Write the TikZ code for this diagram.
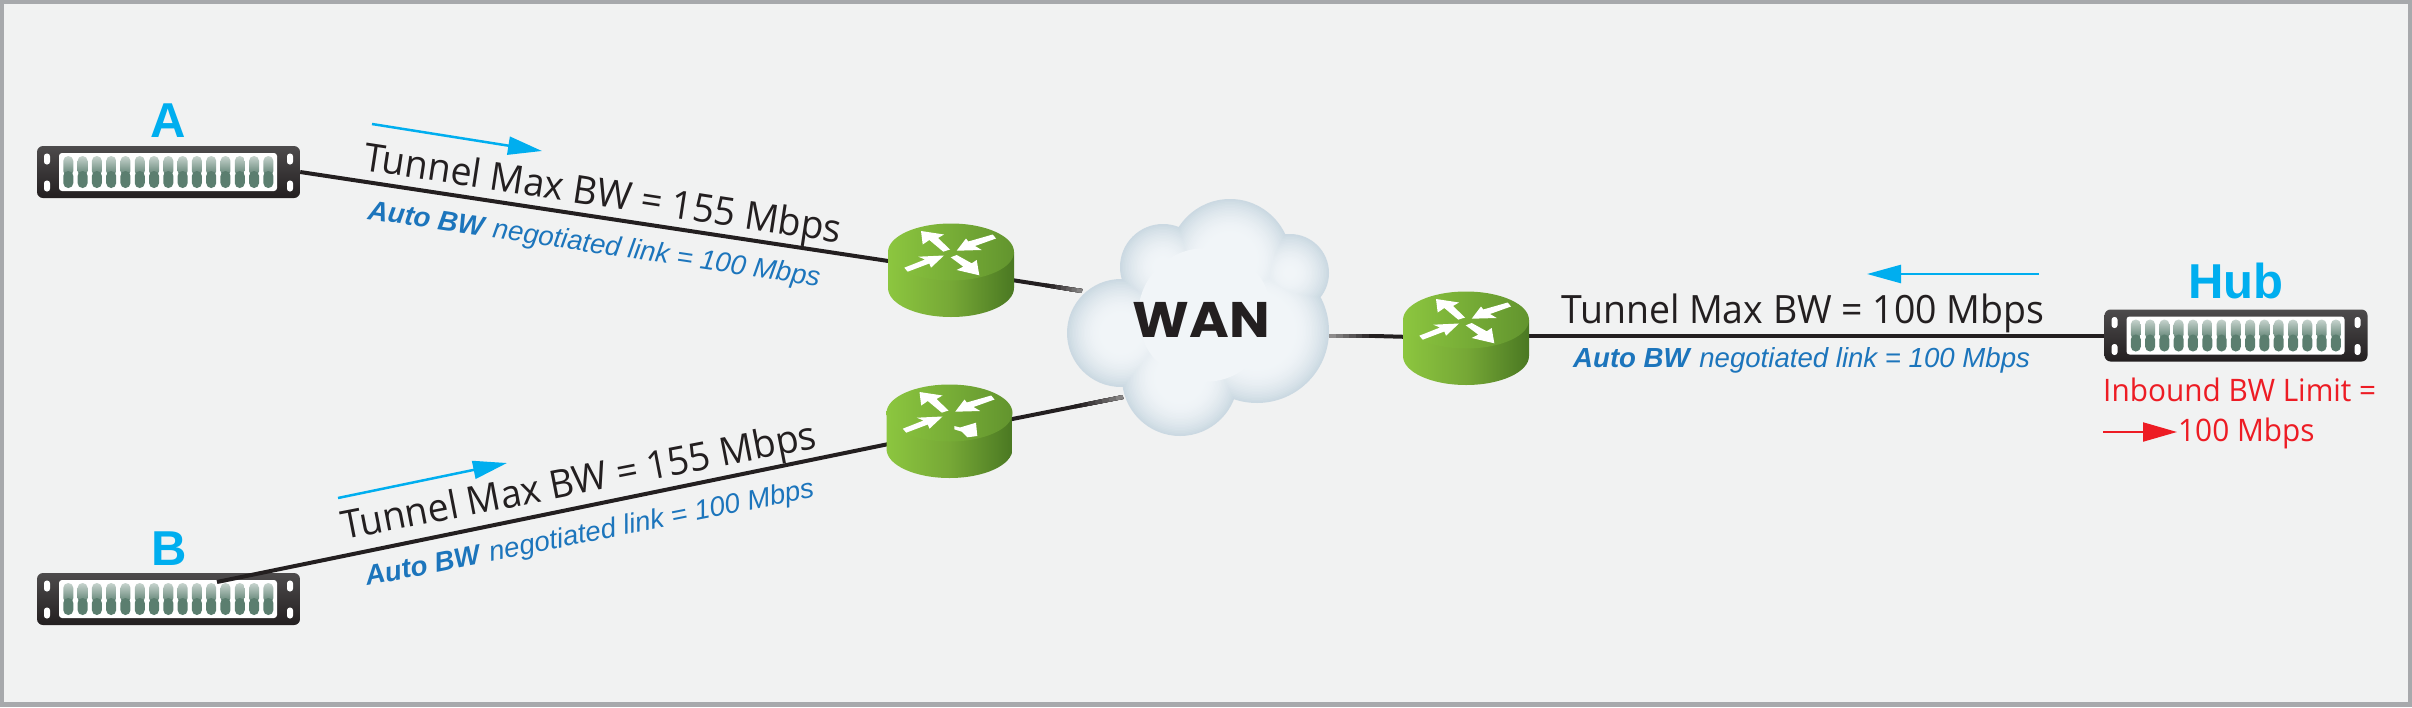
\documentclass[tikz,border=0pt]{standalone}
\usepackage{fontspec}
\usetikzlibrary{arrows.meta,calc}
\setmainfont{Liberation Sans}
\newfontfamily\myrfont[FakeStretch=0.96]{Open Sans}
\newfontfamily\wanfont[FakeStretch=1.08]{Poppins}
\definecolor{bgc}{HTML}{F1F2F2}
\definecolor{framec}{HTML}{A7A9AC}
\definecolor{inkc}{HTML}{231F20}
\definecolor{cyanc}{HTML}{00AEEF}
\definecolor{bluec}{HTML}{1C75BC}
\definecolor{redc}{HTML}{ED1C24}
\definecolor{cloudout}{HTML}{CBD9E2}
\definecolor{cloudin}{HTML}{F1F5F8}
\definecolor{slottop}{HTML}{C6D3CD}
\definecolor{slotmid}{HTML}{5B7E6F}
\definecolor{grl}{HTML}{8CC63F}
\definecolor{grm}{HTML}{76A836}
\definecolor{grr}{HTML}{4A7822}
\definecolor{grt}{HTML}{62942E}
\definecolor{srvtop}{HTML}{4D4B4C}
\tikzset{
 wire/.style={draw=inkc,line width=4pt},
 serverbox/.style={minimum width=263pt,minimum height=52pt,inner sep=0pt,rounded corners=6pt,top color=srvtop,bottom color=inkc},
 routerspot/.style={minimum width=126pt,minimum height=93pt,inner sep=0pt},
 tunneltext/.style={anchor=base west,inner sep=0pt,text=inkc,font=\myrfont\fontsize{39}{39}\selectfont},
 autotext/.style={anchor=base west,inner sep=0pt,text=bluec,font=\fontsize{27.6}{28}\selectfont},
 nametext/.style={anchor=base,inner sep=0pt,text=cyanc,font=\bfseries\fontsize{49}{49}\selectfont},
 redtext/.style={anchor=base west,inner sep=0pt,text=redc,font=\myrfont\fontsize{31}{32}\selectfont},
 flowarrow/.style={draw=cyanc,line width=2.5pt,-{Triangle[length=34pt,width=18pt]}},
 redarrow/.style={draw=redc,line width=2pt,-{Triangle[length=34pt,width=19pt]}},
}
\newcommand{\serverdetail}[1]{%
 \begin{scope}[shift={(#1.center)}]
  \fill[white,rounded corners=3pt] (-109.5,-19) rectangle (108.5,19);
  \foreach \i in {0,...,14}{
   \pgfmathsetmacro{\sx}{-105.2+14.29*\i}
   \path[rounded corners=4.9pt,top color=slottop,bottom color=slotmid] (\sx,-16) rectangle ++(10,20);
   \fill[rounded corners=4.9pt,slotmid] (\sx,-1) rectangle ++(10,17);
  }
  \foreach \hx in {-121.5,121.5}\foreach \hy in {-13,14}{
   \fill[white,rounded corners=2.8pt] (\hx-3,\hy-5.5) rectangle ++(6,11);
  }
 \end{scope}}
\newcommand{\arrowpair}{%
  \fill[white] (-30,-39.5)--(-7,-36)--(-13,-32.5)--(-1,-21)--(-7.7,-18.8)--(-21.7,-30.5)--(-28.3,-26)--cycle;
  \fill[white] (5.7,-19.8)--(15,-32)--(17.3,-29)--(41.7,-36)--(45,-32)--(24,-24.5)--(30.7,-20.5)--cycle;
  \fill[white] (-7,-15)--(-20,-2.8)--(-21.7,-7)--(-43.3,1.2)--(-46.7,-2.8)--(-26,-11)--(-32.7,-13.8)--cycle;}
\newcommand{\routerbody}{%
  \path[left color=grl,right color=grr,middle color=grm]
    (-63,-18.5) -- (-63,17.5) arc[start angle=180,end angle=0,x radius=63,y radius=29] -- (63,-18.5) -- cycle;
  \path[left color=grl,right color=grt]
    (0,-18.5) ellipse[x radius=63,y radius=28.5];}
\begin{document}
\begin{tikzpicture}[x=1pt,y=-1pt]
\useasboundingbox (0,0) rectangle (2412,707);
\fill[framec] (0,0) rectangle (2412,707);
\fill[bgc] (4,4) rectangle (2408,702);
% placement nodes
\node[serverbox] (A) at (168.5,172) {};
\node[serverbox] (B) at (168.5,599) {};
\node[serverbox] (Hub) at (2236,335.5) {};
\node[routerspot] (r1) at (951,270.5) {};
\node[routerspot] (r2) at (949.5,431.5) {};
\node[routerspot] (r3) at (1466,338.5) {};
\coordinate (bstart) at (217,582);
\coordinate (c1) at (1082,291);
\coordinate (c2) at (1123,397);
\coordinate (c3) at (1329,336);
\coordinate (rj) at (1375,336);
\serverdetail{A}
\serverdetail{B}
\serverdetail{Hub}
% connectors
\draw[wire] (A.east) -- (r1.center);
\draw[wire] (bstart) -- (r2.center);
\draw[wire] (Hub.west) -- (Hub.west -| r3.center);
\foreach \t/\k in {0/100,.72/100,.76/94,.8/86,.84/79,.88/72,.92/64,.96/56}{
  \draw[draw=inkc!\k!white,line width=4pt] ($(r1.center)!\t!(c1)$) -- (c1);
  \draw[draw=inkc!\k!white,line width=4pt] ($(r2.center)!\t!(c2)$) -- (c2);
}
\draw[wire] (r3.center) -- (rj);
\foreach \t/\k in {0/100,.14/92,.28/84,.42/76,.56/68,.7/60,.84/52}{
  \draw[draw=inkc!\k!white,line width=4pt] ($(rj)!\t!(c3)$) -- (c3);
}
% routers
\begin{scope}[shift={(r1.center)}]
 \routerbody\arrowpair
 \fill[white] (28.3,4.8)--(5.7,-0.5)--(12.3,-3.8)--(-0.3,-13.2)--(5.7,-15.5)--(20.7,-7.2)--(25.7,-10.5)--cycle;
\end{scope}
\begin{scope}[shift={(r2.center)}]
 \routerbody\arrowpair
 \fill[white] (4.8,-5.5)--(10.5,-4)--(26.5,-8.8)--(27.8,4.5)--(17.8,5.8)--(12.2,0.2)--(4.8,-2.2)--cycle;
\end{scope}
\begin{scope}[shift={(r3.center)}]
 \routerbody\arrowpair
 \fill[white] (28.3,4.8)--(5.7,-0.5)--(12.3,-3.8)--(-0.3,-13.2)--(5.7,-15.5)--(20.7,-7.2)--(25.7,-10.5)--cycle;
\end{scope}
% cloud
\foreach \k in {0,1.5,...,36}{
 \pgfmathsetmacro{\p}{100*(1-(1-\k/36)*(1-\k/36))}
 \fill[cloudin!\p!cloudout]
  (1121,333) circle[radius=54-\k]
  (1163,267) circle[radius={max(43-\k,4)}]
  (1230,260) circle[radius=61-\k]
  (1290,273) circle[radius={max(39-\k,3)}]
  (1257,331) circle[radius=72-\k]
  (1180,378) circle[radius=58-\k]
  (1205,315) circle[radius=20+1.3*\k];
}
\node[anchor=base,inner sep=0pt,text=inkc,font=\wanfont\bfseries\fontsize{50}{50}\selectfont] (wan) at (1201.5,337) {WAN};
% names
\node[nametext] (la) at (168.5,137) {A};
\node[nametext] (lb) at (169,565) {B};
\node[nametext] (lh) at (2236,298) {Hub};
% tunnel labels
\node[tunneltext,rotate=-8.7] (ta) at (362,170) {Tunnel Max BW = 155 Mbps};
\node[tunneltext,rotate=11.0] (tb) at (344,540) {Tunnel Max BW = 155 Mbps};
\node[tunneltext] (th) at (1561,323) {Tunnel Max BW = 100 Mbps};
\node[autotext,rotate=-8.5] (aa) at (367,219) {\textbf{\textit{Auto BW}} \textit{negotiated link = 100 Mbps}};
\node[autotext,rotate=11.2] (ab) at (367,586) {\textbf{\textit{Auto BW}} \textit{negotiated link = 100 Mbps}};
\node[autotext] (ah) at (1573,367) {\textbf{\textit{Auto BW}} \textit{negotiated link = 100 Mbps}};
\node[redtext] (ra) at (2103,401) {Inbound BW Limit =};
\node[redtext] (rb) at (2178,441) {100 Mbps};
% flow arrows
\coordinate (fa1) at (372,124); \coordinate (fa2) at (542,151);
\coordinate (fb1) at (338,498); \coordinate (fb2) at (507,463);
\coordinate (fh1) at (2039,274); \coordinate (fh2) at (1867,274);
\coordinate (fr1) at (2103,432); \coordinate (fr2) at (2177,432);
\draw[flowarrow] (fa1) -- (fa2);
\draw[flowarrow] (fb1) -- (fb2);
\draw[flowarrow] (fh1) -- (fh2);
\draw[redarrow] (fr1) -- (fr2);
\end{tikzpicture}
\end{document}
